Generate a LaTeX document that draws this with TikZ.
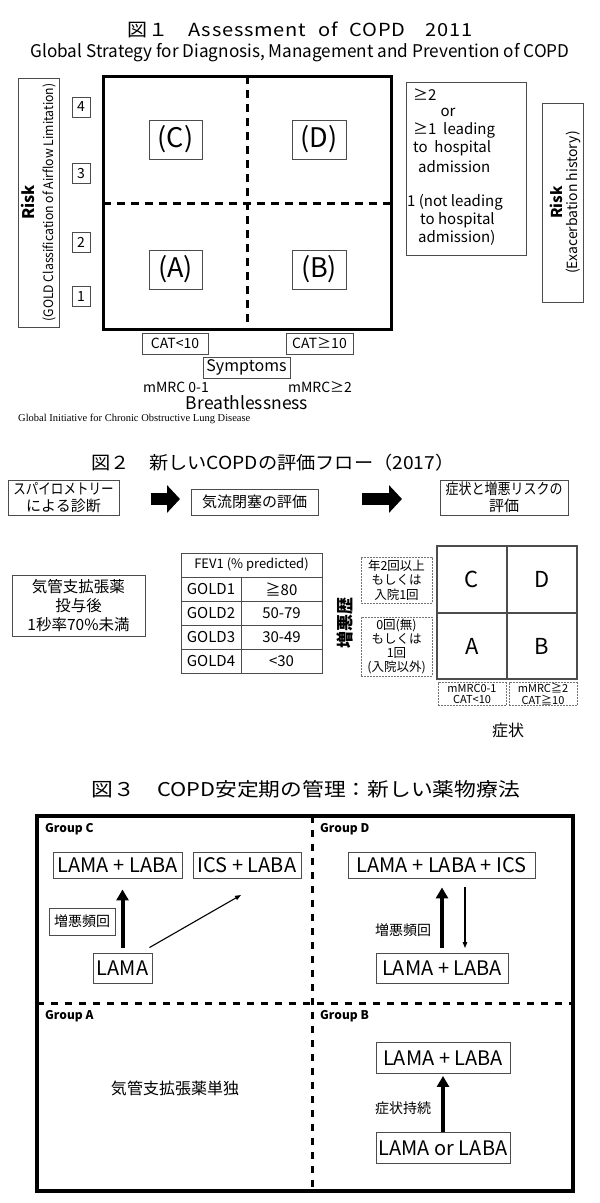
\documentclass[tikz,border=0pt]{standalone}
\usepackage{graphicx}
\usepackage{fontspec}
\setmainfont{Noto Sans CJK JP}
\newfontfamily\lsfont[LetterSpace=4]{Noto Sans CJK JP}
\newfontfamily\seriffn{Liberation Serif}
\usetikzlibrary{arrows.meta,calc}
\newcommand\fs[2]{\fontsize{#1bp}{#2bp}\selectfont}
\newcommand\fw[2]{\resizebox{#1}{\height}{#2}}
\definecolor{bgray}{gray}{0.3}
\definecolor{dgray}{gray}{0.45}
\begin{document}
\begin{tikzpicture}[x=1bp,y=-1bp,
  bx/.style={draw=bgray, line width=0.9bp, inner sep=0pt, align=center},
  dbx/.style={draw=dgray, line width=0.9bp, dash pattern=on 2bp off 1bp, inner sep=0pt, align=center},
  txt/.style={inner sep=0pt, align=center},
  blk/.style={line width=12bp, -{Triangle[length=13bp,width=27bp]}},
  bigarr/.style={line width=4bp, -{Triangle[length=11bp,width=12bp]}},
  thinarr/.style={line width=1.1bp, -{Triangle[length=6bp,width=4.5bp]}}]
\useasboundingbox (0,0) rectangle (600,1203);
\fill[white] (0,0) rectangle (600,1203);

% ---------------- Figure 1 ----------------
\node[txt] (t1) at (300,30) {\fs{18}{20}\fw{345bp}{\lsfont 図１\quad Assessment\hspace{6bp} of\hspace{6bp} COPD\quad 2011}};
\node[txt] (st1) at (300,53) {\fs{17.5}{19}\fw{539bp}{Global Strategy for Diagnosis, Management and Prevention of COPD}};

\draw[line width=3bp] (103,76) rectangle (391,329);
\draw[line width=3bp, dash pattern=on 8bp off 6bp] (247,76) -- (247,329);
\draw[line width=3bp, dash pattern=on 8bp off 6bp] (103,203) -- (391,203);

\node[bx, minimum width=53bp, minimum height=39bp] (qC) at (175.5,139.5) {\fs{27}{29}(C)};
\node[bx, minimum width=54bp, minimum height=39bp] (qD) at (319,139.5) {\fs{27}{29}(D)};
\node[bx, minimum width=53bp, minimum height=39bp] (qA) at (175.5,269.5) {\fs{27}{29}(A)};
\node[bx, minimum width=54bp, minimum height=39bp] (qB) at (319,269.5) {\fs{27}{29}(B)};

\node[bx, minimum width=41bp, minimum height=249bp] (rl) at (38.5,202.5) {};
\node[txt, rotate=90] (rl1) at (28,202.5) {\fs{16}{18}\bfseries Risk};
\node[txt, rotate=90] (rl2) at (49,202.5) {\fs{13}{15}\fw{238bp}{(GOLD Classification of Airflow Limitation)}};

\node[bx, minimum width=18bp, minimum height=20bp] (n4) at (81,107) {\fs{14}{16}4};
\node[bx, minimum width=18bp, minimum height=20bp] (n3) at (81,173.5) {\fs{14}{16}3};
\node[bx, minimum width=18bp, minimum height=20bp] (n2) at (81,242.5) {\fs{14}{16}2};
\node[bx, minimum width=18bp, minimum height=20bp] (n1) at (81,296.5) {\fs{14}{16}1};

\node[bx, minimum width=66bp, minimum height=21bp] (cat1) at (175,343.5) {\fs{14}{16}CAT<10};
\node[bx, minimum width=67bp, minimum height=21bp] (cat2) at (319.5,343.5) {\fs{14}{16}CAT≥10};
\node[bx, minimum width=87bp, minimum height=21bp] (sym) at (246.5,367.5) {\fs{16}{18}Symptoms};
\node[txt] (m1) at (176,387) {\fs{14}{16}mMRC 0-1};
\node[txt] (m2) at (320,387) {\fs{14}{16}mMRC≥2};
\node[txt] (br) at (247,403) {\fs{17.5}{19}Breathlessness};
\node[txt, anchor=west] (fn) at (18,419) {\seriffn\fs{10.5}{12}Global Initiative for Chronic Obstructive Lung Disease};

\node[bx, minimum width=120bp, minimum height=173bp] (rb) at (466,168.5) {};
\node[txt, anchor=west] (r1) at (413,95) {\fs{15}{17}≥2};
\node[txt] (r2) at (448,112) {\fs{15}{17}or};
\node[txt, anchor=west] (r3) at (413,130) {\fs{15}{17}≥1\ \ leading};
\node[txt, anchor=west] (r4) at (413,148) {\fs{15}{17}to\ \ hospital};
\node[txt, anchor=west] (r5) at (418,167) {\fs{15}{17}admission};
\node[txt, anchor=west] (r6) at (407,202) {\fs{15}{17}1 (not leading};
\node[txt, anchor=west] (r7) at (420,220) {\fs{15}{17}to hospital};
\node[txt, anchor=west] (r8) at (418,238) {\fs{15}{17}admission)};

\node[bx, minimum width=41bp, minimum height=199bp] (rr) at (562.5,202.5) {};
\node[txt, rotate=90] (rr1) at (556,202.5) {\fs{15}{17}\bfseries Risk};
\node[txt, rotate=90] (rr2) at (573,202.5) {\fs{14}{16}(Exacerbation history)};

% ---------------- Figure 2 ----------------
\node[txt] (t2) at (273,463) {\fs{18}{20}\fw{363bp}{図２\quad 新しいCOPDの評価フロー（2017）}};
\node[bx, minimum width=111bp, minimum height=35bp, font=\fs{15}{16.5}] (f1) at (63.5,497.5) {\fw{100bp}{スパイロメトリー}\\による診断};
\node[bx, minimum width=127bp, minimum height=26bp, font=\fs{15}{16.5}] (f2) at (254.5,502) {気流閉塞の評価};
\node[bx, minimum width=128bp, minimum height=35bp, font=\fs{15}{16.5}] (f3) at (504,497.5) {\fw{117bp}{症状と増悪リスクの}\\評価};
\coordinate (a1s) at (151,499); \coordinate (a1e) at (180,499);
\coordinate (a2s) at (362,499); \coordinate (a2e) at (402,499);
\draw[blk] (a1s) -- (a1e);
\draw[blk] (a2s) -- (a2e);

\node[bx, minimum width=133bp, minimum height=61bp, font=\fs{15.5}{19}] (kb) at (78.5,605.5) {気管支拡張薬\\投与後\\1秒率70\%未満};

\draw[bgray, line width=0.9bp] (181,553) rectangle (322,673);
\foreach \yy in {577,601,625,649} \draw[bgray, line width=0.9bp] (181,\yy) -- (322,\yy);
\draw[bgray, line width=0.9bp] (241,577) -- (241,673);
\node[txt] (th) at (251.5,565) {\fs{13}{15}FEV1 (\% predicted)};
\node[txt] (g1) at (211,589) {\fs{15}{17}GOLD1};
\node[txt] (g2) at (211,613) {\fs{15}{17}GOLD2};
\node[txt] (g3) at (211,637) {\fs{15}{17}GOLD3};
\node[txt] (g4) at (211,661) {\fs{15}{17}GOLD4};
\node[txt] (v1) at (281.5,589) {\fs{15}{17}≧80};
\node[txt] (v2) at (281.5,613) {\fs{15}{17}50-79};
\node[txt] (v3) at (281.5,637) {\fs{15}{17}30-49};
\node[txt] (v4) at (281.5,661) {\fs{15}{17}<30};

\draw[bgray, line width=1.2bp] (437,546) rectangle (577,679);
\draw[bgray, line width=1.2bp] (507,546) -- (507,679);
\draw[bgray, line width=1.2bp] (437,613) -- (577,613);
\node[txt] (gC) at (472,579.5) {\fs{22}{24}C};
\node[txt] (gD) at (542,579.5) {\fs{22}{24}D};
\node[txt] (gA) at (472,646) {\fs{22}{24}A};
\node[txt] (gB) at (542,646) {\fs{22}{24}B};
\node[dbx, minimum width=71bp, minimum height=46bp, font=\fs{12.5}{14.5}] (e1) at (396.5,580) {年2回以上\\もしくは\\入院1回};
\node[dbx, minimum width=71bp, minimum height=59bp, font=\fs{12.5}{14}] (e2) at (396.5,646.5) {0回(無)\\もしくは\\1回\\(入院以外)};
\node[dbx, minimum width=68bp, minimum height=23bp, font=\fs{11}{11.5}] (s1) at (472,694) {mMRC0-1\\CAT<10};
\node[dbx, minimum width=68bp, minimum height=23bp, font=\fs{11}{11.5}] (s2) at (543,694) {mMRC≧2\\CAT≧10};
\node[txt] (sx) at (508,730) {\fs{16}{18}症状};
\node[txt, rotate=90] (zx) at (345,623) {\fs{17}{19}\bfseries 増悪歴};

% ---------------- Figure 3 ----------------
\node[txt] (t3) at (306,789) {\fs{19}{21}\fw{428bp}{図３\quad COPD安定期の管理：新しい薬物療法}};
\draw[line width=3.5bp] (37,816) rectangle (573,1191);
\draw[line width=3bp, dash pattern=on 7bp off 7bp] (312,816) -- (312,1191);
\draw[line width=3bp, dash pattern=on 7bp off 7bp] (37,1003) -- (573,1003);
\node[txt, anchor=west] (gpC) at (45,829) {\fs{12}{14}\bfseries Group C};
\node[txt, anchor=west] (gpD) at (320,829) {\fs{12}{14}\bfseries Group D};
\node[txt, anchor=west] (gpA) at (45,1016) {\fs{12}{14}\bfseries Group A};
\node[txt, anchor=west] (gpB) at (320,1016) {\fs{12}{14}\bfseries Group B};

\node[bx, minimum width=129bp, minimum height=26bp] (llC) at (117.5,865) {\fs{20}{22}LAMA + LABA};
\node[bx, minimum width=108bp, minimum height=26bp] (icsC) at (247,865) {\fs{20}{22}ICS + LABA};
\node[bx, minimum width=59bp, minimum height=30bp] (lamaC) at (122.5,968) {\fs{20}{22}LAMA};
\node[bx, minimum width=66bp, minimum height=27bp] (zkC) at (82,921.5) {\fs{14}{16}増悪頻回};
\node[bx, minimum width=187bp, minimum height=26bp] (llicsD) at (441.5,865) {\fs{20}{22}LAMA + LABA + ICS};
\node[bx, minimum width=132bp, minimum height=30bp] (llD) at (442,968) {\fs{20}{22}LAMA + LABA};
\node[txt] (zkD) at (403,930) {\fs{14}{16}増悪頻回};
\node[bx, minimum width=134bp, minimum height=31bp] (llB) at (443,1058) {\fs{20}{22}LAMA + LABA};
\node[bx, minimum width=134bp, minimum height=31bp] (lolB) at (443,1148) {\fs{20}{22}LAMA or LABA};
\node[txt] (szB) at (403,1108) {\fs{14}{16}症状持続};
\node[txt] (kA) at (175,1088) {\fs{16}{18}気管支拡張薬単独};

\draw[bigarr, shorten <=5bp, shorten >=11bp] (lamaC.north) -- (lamaC.north |- llC.south);
\coordinate (c3e) at (241,895);
\draw[thinarr] ($(lamaC.north east)+(-3,-5)$) -- (c3e);
\draw[bigarr, shorten <=5bp, shorten >=9bp] (llD.north) -- (llD.north |- llicsD.south);
\coordinate (dd1) at (465,887); \coordinate (dd2) at (465,948);
\draw[thinarr] (dd1) -- (dd2);
\draw[bigarr, shorten >=2bp] (lolB.north) -- (llB.south);
\end{tikzpicture}
\end{document}
